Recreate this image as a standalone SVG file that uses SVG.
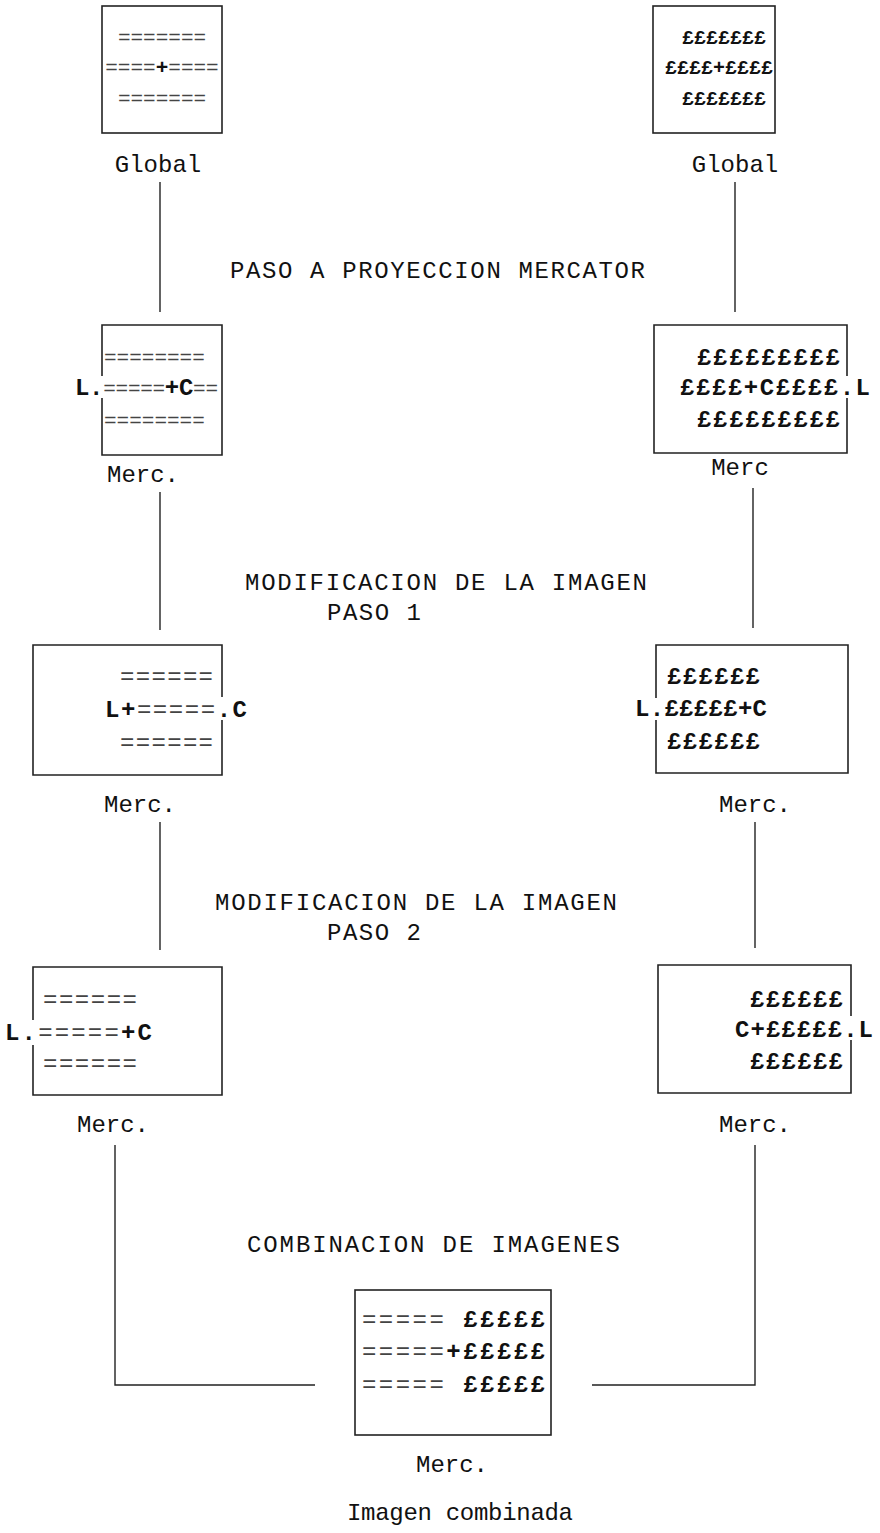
<svg xmlns="http://www.w3.org/2000/svg" width="880" height="1533" viewBox="0 0 880 1533">
<style>
text { font-family: "Liberation Mono", "Courier New", monospace; fill: #111; }
.lbl { font-size: 24px; }
.ttl { font-size: 24px; }
.c { font-size: 24px; }
.s { font-size: 21px; }
.sr { font-size: 20px; }
.m { font-size: 21px; }
.b { font-weight: bold; }
.k { fill: #111; font-weight: bold; }
.eq { fill: #444; }
.box { fill: none; stroke: #222; stroke-width: 1.6; }
.con { fill: none; stroke: #222; stroke-width: 1.4; }
</style>
<rect width="880" height="1533" fill="#fff"/>

<g id="connectors">
  <line class="con" x1="160" y1="182" x2="160" y2="312"/>
  <line class="con" x1="735" y1="182" x2="735" y2="312"/>
  <line class="con" x1="160" y1="492" x2="160" y2="630"/>
  <line class="con" x1="753" y1="488" x2="753" y2="628"/>
  <line class="con" x1="160" y1="822" x2="160" y2="950"/>
  <line class="con" x1="755" y1="822" x2="755" y2="948"/>
  <polyline class="con" points="115,1145 115,1385 315,1385"/>
  <polyline class="con" points="755,1145 755,1385 592,1385"/>
</g>

<g id="step-labels">
  <text class="ttl" x="230" y="278" textLength="415" lengthAdjust="spacing">PASO A PROYECCION MERCATOR</text>
  <text class="ttl" x="245" y="590" textLength="402" lengthAdjust="spacing">MODIFICACION DE LA IMAGEN</text>
  <text class="ttl" x="327" y="620" textLength="94" lengthAdjust="spacing">PASO 1</text>
  <text class="ttl" x="215" y="910" textLength="402" lengthAdjust="spacing">MODIFICACION DE LA IMAGEN</text>
  <text class="ttl" x="327" y="940" textLength="94" lengthAdjust="spacing">PASO 2</text>
  <text class="ttl" x="247" y="1252" textLength="373" lengthAdjust="spacing">COMBINACION DE IMAGENES</text>
</g>

<g id="global-left">
  <rect class="box" x="102" y="6" width="120" height="127"/>
  <text class="s eq" x="162" y="44" text-anchor="middle">=======</text>
  <text class="s eq" x="162" y="74" text-anchor="middle">====<tspan class="k">+</tspan>====</text>
  <text class="s eq" x="162" y="105" text-anchor="middle">=======</text>
  <text class="lbl" x="158" y="172" text-anchor="middle">Global</text>
</g>

<g id="global-right">
  <rect class="box" x="653" y="6" width="122" height="127"/>
  <text class="sr b" x="724" y="44" text-anchor="middle">£££££££</text>
  <text class="sr b" x="719" y="74" text-anchor="middle">££££+££££</text>
  <text class="sr b" x="724" y="105" text-anchor="middle">£££££££</text>
  <text class="lbl" x="735" y="172" text-anchor="middle">Global</text>
</g>

<g id="merc-left-1">
  <path class="box" d="M102,376 V325 H222 V455 H102 V398"/>
  <text class="m eq" x="104" y="364">========</text>
  <text class="m eq" x="75" y="395" textLength="143" lengthAdjust="spacing"><tspan class="k" style="font-size:24px">L.</tspan>=====<tspan class="k" style="font-size:24px">+C</tspan>==</text>
  <text class="m eq" x="104" y="427">========</text>
  <text class="lbl" x="143" y="482" text-anchor="middle">Merc.</text>
</g>

<g id="merc-right-1">
  <path class="box" d="M847,376 V325 H654 V453 H847 V398"/>
  <text class="c b" x="697" y="365" textLength="143" lengthAdjust="spacing">£££££££££</text>
  <text class="c b" x="680" y="395" textLength="190" lengthAdjust="spacing">££££+C££££.L</text>
  <text class="c b" x="697" y="427" textLength="143" lengthAdjust="spacing">£££££££££</text>
  <text class="lbl" x="740" y="475" text-anchor="middle">Merc</text>
</g>

<g id="merc-left-2">
  <path class="box" d="M222,697 V645 H33 V775 H222 V720"/>
  <text class="c eq" x="120" y="684" textLength="93" lengthAdjust="spacing">======</text>
  <text class="c eq" x="105" y="717" textLength="142" lengthAdjust="spacing"><tspan class="k">L+</tspan>=====<tspan class="k">.C</tspan></text>
  <text class="c eq" x="120" y="750" textLength="93" lengthAdjust="spacing">======</text>
  <text class="lbl" x="140" y="812" text-anchor="middle">Merc.</text>
</g>

<g id="merc-right-2">
  <path class="box" d="M656,698 V645 H848 V773 H656 V720"/>
  <text class="c b" x="667" y="684" textLength="93" lengthAdjust="spacing">££££££</text>
  <text class="c b" x="635" y="716" textLength="132" lengthAdjust="spacing">L.£££££+C</text>
  <text class="c b" x="667" y="749" textLength="93" lengthAdjust="spacing">££££££</text>
  <text class="lbl" x="755" y="812" text-anchor="middle">Merc.</text>
</g>

<g id="merc-left-3">
  <path class="box" d="M33,1020 V967 H222 V1095 H33 V1045"/>
  <text class="c eq" x="43" y="1007" textLength="94" lengthAdjust="spacing">======</text>
  <text class="c eq" x="5" y="1040" textLength="147" lengthAdjust="spacing"><tspan class="k">L.</tspan>=====<tspan class="k">+C</tspan></text>
  <text class="c eq" x="43" y="1071" textLength="94" lengthAdjust="spacing">======</text>
  <text class="lbl" x="113" y="1132" text-anchor="middle">Merc.</text>
</g>

<g id="merc-right-3">
  <path class="box" d="M851,1016 V965 H658 V1093 H851 V1040"/>
  <text class="c b" x="750" y="1007" textLength="93" lengthAdjust="spacing">££££££</text>
  <text class="c b" x="735" y="1037" textLength="138" lengthAdjust="spacing">C+£££££.L</text>
  <text class="c b" x="750" y="1069" textLength="93" lengthAdjust="spacing">££££££</text>
  <text class="lbl" x="755" y="1132" text-anchor="middle">Merc.</text>
</g>

<g id="combined">
  <rect class="box" x="355" y="1290" width="196" height="145"/>
  <text class="c eq" x="362" y="1327" textLength="183" lengthAdjust="spacing">===== <tspan class="k">£££££</tspan></text>
  <text class="c eq" x="362" y="1359" textLength="183" lengthAdjust="spacing">=====<tspan class="k">+£££££</tspan></text>
  <text class="c eq" x="362" y="1392" textLength="183" lengthAdjust="spacing">===== <tspan class="k">£££££</tspan></text>
  <text class="lbl" x="452" y="1472" text-anchor="middle">Merc.</text>
  <text class="lbl" x="347" y="1520" textLength="226" lengthAdjust="spacing">Imagen combinada</text>
</g>
</svg>
